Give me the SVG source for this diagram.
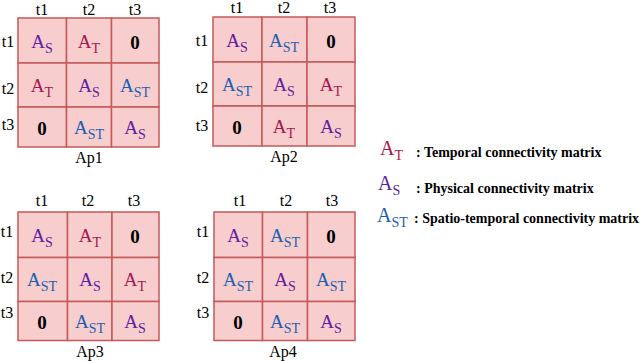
<svg xmlns="http://www.w3.org/2000/svg" width="640" height="361" viewBox="0 0 640 361" font-family="'Liberation Serif', 'Times New Roman', serif">
<style>
text{font-family:'Liberation Serif','Times New Roman',serif;}
.cell{fill:#f7cdcd;stroke:#c55a5a;stroke-width:1.5;}
.hd{font-size:16px;fill:#000;text-anchor:middle;}
.m{font-size:19px;text-anchor:middle;}
.sub{font-size:14px;}
.t{fill:#a5164f;}
.s{fill:#6020a0;}
.st{fill:#1b5fae;}
.z{font-size:19px;font-weight:bold;text-anchor:middle;fill:#000;}
.lg{font-size:14px;font-weight:bold;fill:#000;}
</style>
<rect width="640" height="361" fill="#fff"/>

<g id="Ap1" transform="translate(18,18)">
<rect class="cell" x="0" y="0" width="48.5" height="45"/>
<rect class="cell" x="48.5" y="0" width="45" height="45"/>
<rect class="cell" x="93.5" y="0" width="47.5" height="45"/>
<rect class="cell" x="0" y="45" width="48.5" height="44"/>
<rect class="cell" x="48.5" y="45" width="45" height="44"/>
<rect class="cell" x="93.5" y="45" width="47.5" height="44"/>
<rect class="cell" x="0" y="89" width="48.5" height="40"/>
<rect class="cell" x="48.5" y="89" width="45" height="40"/>
<rect class="cell" x="93.5" y="89" width="47.5" height="40"/>
<text class="hd" x="24" y="-3">t1</text><text class="hd" x="71" y="-3">t2</text><text class="hd" x="117" y="-3">t3</text>
<text class="hd" x="-10" y="29">t1</text><text class="hd" x="-10" y="76">t2</text><text class="hd" x="-10" y="112">t3</text>
<text class="m s" x="24" y="29.5">A<tspan class="sub" dy="5">S</tspan></text>
<text class="m t" x="71" y="29.5">A<tspan class="sub" dy="5">T</tspan></text>
<text class="z" x="117" y="31">0</text>
<text class="m t" x="24" y="74">A<tspan class="sub" dy="5">T</tspan></text>
<text class="m s" x="71" y="74">A<tspan class="sub" dy="5">S</tspan></text>
<text class="m st" x="117" y="74">A<tspan class="sub" dy="5">ST</tspan></text>
<text class="z" x="24" y="117">0</text>
<text class="m st" x="71" y="116">A<tspan class="sub" dy="5">ST</tspan></text>
<text class="m s" x="117" y="116">A<tspan class="sub" dy="5">S</tspan></text>
<text class="hd" x="71" y="145">Ap1</text>
</g>

<g id="Ap2" transform="translate(213,17)">
<rect class="cell" x="0" y="0" width="49" height="45"/>
<rect class="cell" x="49" y="0" width="45" height="45"/>
<rect class="cell" x="94" y="0" width="48" height="45"/>
<rect class="cell" x="0" y="45" width="49" height="44"/>
<rect class="cell" x="49" y="45" width="45" height="44"/>
<rect class="cell" x="94" y="45" width="48" height="44"/>
<rect class="cell" x="0" y="89" width="49" height="40"/>
<rect class="cell" x="49" y="89" width="45" height="40"/>
<rect class="cell" x="94" y="89" width="48" height="40"/>
<text class="hd" x="24" y="-4">t1</text><text class="hd" x="71" y="-4">t2</text><text class="hd" x="117" y="-4">t3</text>
<text class="hd" x="-11" y="29">t1</text><text class="hd" x="-11" y="76">t2</text><text class="hd" x="-11" y="114">t3</text>
<text class="m s" x="24" y="29.5">A<tspan class="sub" dy="5">S</tspan></text>
<text class="m st" x="71" y="29.5">A<tspan class="sub" dy="5">ST</tspan></text>
<text class="z" x="118" y="31">0</text>
<text class="m st" x="24" y="74">A<tspan class="sub" dy="5">ST</tspan></text>
<text class="m s" x="71" y="74">A<tspan class="sub" dy="5">S</tspan></text>
<text class="m t" x="118" y="74">A<tspan class="sub" dy="5">T</tspan></text>
<text class="z" x="24" y="117">0</text>
<text class="m t" x="71" y="116">A<tspan class="sub" dy="5">T</tspan></text>
<text class="m s" x="118" y="116">A<tspan class="sub" dy="5">S</tspan></text>
<text class="hd" x="71" y="145">Ap2</text>
</g>

<g id="Ap3" transform="translate(18,212)">
<rect class="cell" x="0" y="0" width="49.5" height="45.5"/>
<rect class="cell" x="49.5" y="0" width="44.5" height="45.5"/>
<rect class="cell" x="94" y="0" width="47" height="45.5"/>
<rect class="cell" x="0" y="45.5" width="49.5" height="44"/>
<rect class="cell" x="49.5" y="45.5" width="44.5" height="44"/>
<rect class="cell" x="94" y="45.5" width="47" height="44"/>
<rect class="cell" x="0" y="89.5" width="49.5" height="39"/>
<rect class="cell" x="49.5" y="89.5" width="44.5" height="39"/>
<rect class="cell" x="94" y="89.5" width="47" height="39"/>
<text class="hd" x="24" y="-6">t1</text><text class="hd" x="70" y="-6">t2</text><text class="hd" x="116" y="-6">t3</text>
<text class="hd" x="-11" y="25">t1</text><text class="hd" x="-11" y="71">t2</text><text class="hd" x="-11" y="106">t3</text>
<text class="m s" x="24" y="29.5">A<tspan class="sub" dy="5">S</tspan></text>
<text class="m t" x="72" y="29.5">A<tspan class="sub" dy="5">T</tspan></text>
<text class="z" x="117" y="31">0</text>
<text class="m st" x="24" y="74">A<tspan class="sub" dy="5">ST</tspan></text>
<text class="m s" x="72" y="74">A<tspan class="sub" dy="5">S</tspan></text>
<text class="m t" x="117" y="74">A<tspan class="sub" dy="5">T</tspan></text>
<text class="z" x="24" y="117">0</text>
<text class="m st" x="72" y="116">A<tspan class="sub" dy="5">ST</tspan></text>
<text class="m s" x="117" y="116">A<tspan class="sub" dy="5">S</tspan></text>
<text class="hd" x="72" y="145">Ap3</text>
</g>

<g id="Ap4" transform="translate(214,212)">
<rect class="cell" x="0" y="0" width="48.5" height="45.5"/>
<rect class="cell" x="48.5" y="0" width="45" height="45.5"/>
<rect class="cell" x="93.5" y="0" width="47.5" height="45.5"/>
<rect class="cell" x="0" y="45.5" width="48.5" height="44"/>
<rect class="cell" x="48.5" y="45.5" width="45" height="44"/>
<rect class="cell" x="93.5" y="45.5" width="47.5" height="44"/>
<rect class="cell" x="0" y="89.5" width="48.5" height="39"/>
<rect class="cell" x="48.5" y="89.5" width="45" height="39"/>
<rect class="cell" x="93.5" y="89.5" width="47.5" height="39"/>
<text class="hd" x="26" y="-6">t1</text><text class="hd" x="72" y="-6">t2</text><text class="hd" x="118" y="-6">t3</text>
<text class="hd" x="-11" y="25">t1</text><text class="hd" x="-11" y="71">t2</text><text class="hd" x="-11" y="106">t3</text>
<text class="m s" x="24" y="29.5">A<tspan class="sub" dy="5">S</tspan></text>
<text class="m st" x="71" y="29.5">A<tspan class="sub" dy="5">ST</tspan></text>
<text class="z" x="117" y="31">0</text>
<text class="m st" x="24" y="74">A<tspan class="sub" dy="5">ST</tspan></text>
<text class="m s" x="71" y="74">A<tspan class="sub" dy="5">S</tspan></text>
<text class="m st" x="117" y="74">A<tspan class="sub" dy="5">ST</tspan></text>
<text class="z" x="24" y="117">0</text>
<text class="m st" x="71" y="116">A<tspan class="sub" dy="5">ST</tspan></text>
<text class="m s" x="117" y="116">A<tspan class="sub" dy="5">S</tspan></text>
<text class="hd" x="69" y="145">Ap4</text>
</g>

<g id="legend">
<text x="380" y="155" class="t" font-size="20">A<tspan font-size="14" dy="5">T</tspan></text>
<text x="416" y="157" class="lg">: Temporal connectivity matrix</text>
<text x="378" y="190" class="s" font-size="20">A<tspan font-size="14" dy="5">S</tspan></text>
<text x="416" y="193" class="lg">: Physical connectivity matrix</text>
<text x="377" y="222" class="st" font-size="20">A<tspan font-size="14" dy="5">ST</tspan></text>
<text x="414" y="223" class="lg">: Spatio-temporal connectivity matrix</text>
</g>
</svg>
